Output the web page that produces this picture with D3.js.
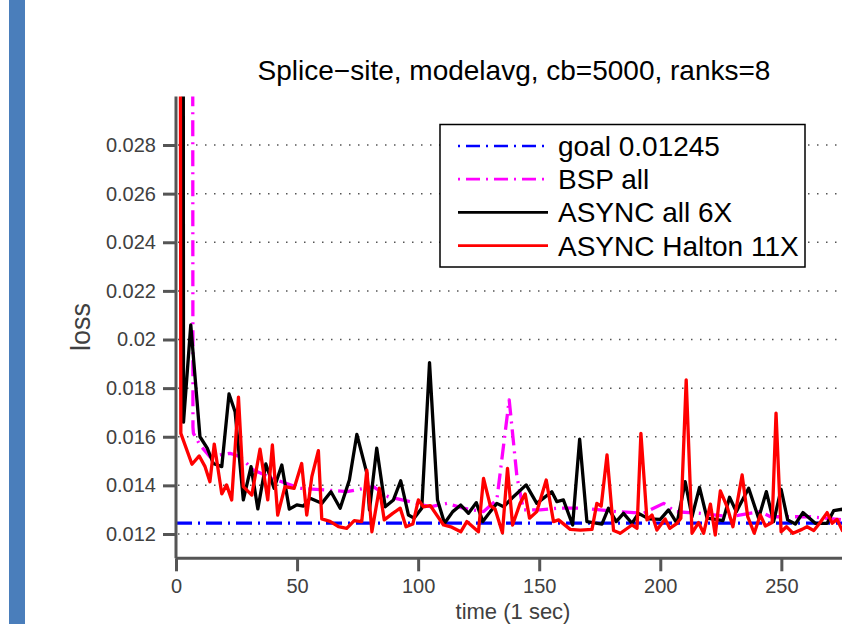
<!DOCTYPE html>
<html>
<head>
  <meta charset="utf-8">
  <title>Splice-site loss</title>
  <script src="https://cdn.jsdelivr.net/npm/d3@7"></script>
  <style>
    body { margin: 0; background: #fff; }
    svg { display: block; font-family: "Liberation Sans", Arial, Helvetica, sans-serif; }
  </style>
</head>
<body>
<svg id="chart" width="842" height="624"></svg>

<script>
  // values (time in sec, loss)
  var goalValue = 0.01245;

  var bspT = [6.8, 7.0, 7.2, 9.9, 14.0, 22.3, 26.4, 32.0, 41.6, 51.2, 62.3, 70.5, 81.5, 87.7, 96.7, 105.0,
    111.9, 118.7, 127.0, 132.5, 137.6, 140.8, 143.5, 150.4, 157.3, 168.3, 182.0, 193.0, 201.4, 206.2,
    216.5, 228.9, 241.3, 245.5, 262.0, 275.2, 280.0];
  var bspV = [0.05, 0.0164, 0.01614, 0.01566, 0.01518, 0.01532, 0.01518, 0.01463, 0.01422, 0.01388, 0.01381,
    0.01374, 0.01395, 0.01353, 0.01333, 0.01312, 0.01326, 0.01306, 0.01292, 0.0134, 0.01752, 0.01436,
    0.01299, 0.01299, 0.01306, 0.01306, 0.01292, 0.01285, 0.01326, 0.01292, 0.01285, 0.01271, 0.01292,
    0.01271, 0.01271, 0.01258, 0.01258];

  var asyncAllT = [2.9, 3.1, 6.1, 9.9, 12.9, 15.4, 18.9, 21.9, 24.4, 27.8, 31.0, 33.8, 37.1, 40.5, 43.7, 46.8,
    49.9, 52.6, 55.4, 60.2, 64.0, 67.8, 71.6, 74.7, 78.8, 79.9, 82.9, 86.4, 89.8, 92.8, 96.0, 98.3, 101.5,
    104.7, 108.0, 110.9, 114.3, 117.6, 120.8, 124.0, 126.7, 129.8, 132.5, 135.3, 138.7, 144.6, 149.0,
    155.2, 157.3, 160.0, 163.8, 166.7, 169.7, 175.9, 178.6, 181.8, 184.8, 188.3, 191.0, 195.2, 200.0,
    203.4, 206.9, 210.3, 213.1, 216.2, 219.3, 222.7, 225.9, 228.6, 231.4, 236.5, 240.6, 243.8, 246.8,
    249.9, 252.6, 255.8, 258.9, 264.0, 268.9, 271.6, 275.2, 279.0];
  var asyncAllV = [0.05, 0.0166, 0.0206, 0.016, 0.01553, 0.0149, 0.01477, 0.01776, 0.01703, 0.0134, 0.01477,
    0.01303, 0.01488, 0.01388, 0.01484, 0.01302, 0.0132, 0.01315, 0.01347, 0.01326, 0.01374, 0.01306,
    0.01422, 0.0161, 0.0145, 0.01299, 0.01553, 0.01312, 0.0134, 0.01419, 0.01278, 0.01265, 0.01306,
    0.01905, 0.0134, 0.01244, 0.01292, 0.01319, 0.01285, 0.01329, 0.01251, 0.01292, 0.01326, 0.01312,
    0.01347, 0.01402, 0.01326, 0.01374, 0.01333, 0.0134, 0.01237, 0.0159, 0.01251, 0.01241, 0.01306,
    0.01251, 0.01285, 0.01244, 0.01285, 0.01262, 0.0126, 0.01299, 0.01244, 0.01415, 0.01271, 0.01392,
    0.01265, 0.0126, 0.01255, 0.01351, 0.01292, 0.01388, 0.01265, 0.01374, 0.01251, 0.01384, 0.01258,
    0.01241, 0.01288, 0.01244, 0.01244, 0.01296, 0.01302, 0.0129];

  var haltonT = [1.6, 2.0, 6.6, 9.6, 12.0, 14.0, 15.8, 18.9, 20.9, 23.0, 25.8, 27.8, 31.3, 34.7, 37.9, 39.8,
    42.0, 45.0, 48.8, 51.9, 54.0, 56.1, 58.8, 60.2, 63.6, 67.1, 70.5, 73.6, 76.7, 78.8, 80.9, 84.0, 86.0,
    89.5, 92.6, 95.0, 97.8, 100.1, 102.2, 105.0, 110.5, 113.9, 117.6, 120.1, 124.9, 127.0, 129.8, 131.8,
    134.8, 136.9, 139.0, 142.1, 144.2, 146.0, 149.0, 152.9, 155.9, 158.0, 162.8, 167.0, 171.8, 173.8,
    175.6, 178.0, 180.7, 183.5, 188.3, 190.4, 192.0, 194.5, 196.6, 198.6, 202.0, 203.9, 206.9, 208.5,
    210.7, 213.1, 215.8, 217.9, 220.7, 222.7, 224.8, 227.6, 230.0, 233.8, 236.1, 238.8, 241.3, 243.4,
    246.2, 247.8, 249.9, 252.1, 254.8, 258.5, 260.6, 263.4, 265.8, 268.9, 271.0, 273.0, 275.2, 278.0];
  var haltonV = [0.05, 0.01614, 0.01487, 0.01521, 0.01477, 0.01415, 0.0157, 0.01365, 0.01402, 0.0134, 0.01763,
    0.01395, 0.0136, 0.01549, 0.0134, 0.01566, 0.01278, 0.01395, 0.01388, 0.0149, 0.01278, 0.01436,
    0.01543, 0.01262, 0.01252, 0.0123, 0.01223, 0.01255, 0.01251, 0.01463, 0.01209, 0.01388, 0.01258,
    0.01285, 0.01306, 0.0123, 0.01241, 0.0134, 0.01312, 0.01317, 0.01237, 0.01228, 0.01209, 0.01251,
    0.01209, 0.01429, 0.01317, 0.01302, 0.01205, 0.0147, 0.01237, 0.01326, 0.01365, 0.01265, 0.01292,
    0.01422, 0.01251, 0.01258, 0.01219, 0.01216, 0.01219, 0.01326, 0.01315, 0.01525, 0.01214, 0.01203,
    0.01237, 0.01223, 0.01614, 0.01258, 0.01278, 0.01216, 0.01262, 0.01223, 0.01244, 0.01265, 0.01834,
    0.01203, 0.01247, 0.01203, 0.01323, 0.01196, 0.01377, 0.01312, 0.0123, 0.01443, 0.01271, 0.01203,
    0.01278, 0.01233, 0.01247, 0.01697, 0.01209, 0.0123, 0.01203, 0.01219, 0.0123, 0.01214, 0.01244,
    0.01288, 0.01244, 0.0126, 0.01214, 0.0122];

  var xTicks = [0, 50, 100, 150, 200, 250];
  var yTicks = [0.012, 0.014, 0.016, 0.018, 0.02, 0.022, 0.024, 0.026, 0.028];
  var yTickLabels = ['0.012', '0.014', '0.016', '0.018', '0.02', '0.022', '0.024', '0.026', '0.028'];
  var legendLabels = ['goal 0.01245', 'BSP all', 'ASYNC all 6X', 'ASYNC Halton 11X'];

  var svg = d3.select('#chart');

  // slide bar on the left
  svg.append('rect')
    .attr('x', 9).attr('y', 0)
    .attr('width', 16).attr('height', 624)
    .attr('fill', '#4a7ebb');

  var x = d3.scaleLinear().domain([0, 280]).range([176, 854]);
  var y = d3.scaleLinear().domain([0.011, 0.030]).range([558.3, 96.4]);

  svg.append('clipPath').attr('id', 'plotclip')
    .append('rect')
    .attr('x', x(0)).attr('y', y(0.030))
    .attr('width', x(280) - x(0)).attr('height', y(0.011) - y(0.030));

  // dotted grid lines
  svg.append('g')
    .selectAll('line')
    .data(yTicks)
    .enter()
    .append('line')
    .attr('x1', x(0) + 2).attr('x2', x(280))
    .attr('y1', function(d) { return y(d); })
    .attr('y2', function(d) { return y(d); })
    .attr('stroke', '#555')
    .attr('stroke-width', 1.5)
    .attr('stroke-dasharray', '1.5,7.5');

  var line = d3.line()
    .x(function(d) { return x(d[0]); })
    .y(function(d) { return y(d[1]); });

  function pairs(ts, vs) {
    return ts.map(function(t, i) { return [t, vs[i]]; });
  }

  var series = [
    { data: [[0, goalValue], [280, goalValue]], color: '#0000ff', dash: '16,6,2,6' },
    { data: pairs(bspT, bspV), color: '#ff00ff', dash: '16,6,2,6' },
    { data: pairs(asyncAllT, asyncAllV), color: '#000000', dash: null },
    { data: pairs(haltonT, haltonV), color: '#ff0000', dash: null }
  ];

  var plot = svg.append('g').attr('clip-path', 'url(#plotclip)');

  plot.selectAll('path')
    .data(series)
    .enter()
    .append('path')
    .attr('d', function(d) { return line(d.data); })
    .attr('fill', 'none')
    .attr('stroke', function(d) { return d.color; })
    .attr('stroke-width', 3.3)
    .attr('stroke-linejoin', 'round')
    .attr('stroke-dasharray', function(d) { return d.dash; });

  // axes
  var xAxis = d3.axisBottom(x).tickValues(xTicks).tickSize(13).tickPadding(8);
  var yAxis = d3.axisLeft(y).tickValues(yTicks).tickSize(13).tickPadding(7)
    .tickFormat(function(d, i) { return yTickLabels[i]; });

  var gx = svg.append('g')
    .attr('transform', 'translate(0,' + y(0.011) + ')')
    .call(xAxis);
  var gy = svg.append('g')
    .attr('transform', 'translate(' + x(0) + ',0)')
    .call(yAxis);

  [gx, gy].forEach(function(g) {
    g.select('.domain').attr('stroke', '#555').attr('stroke-width', 3);
    g.selectAll('.tick line').attr('stroke', '#555').attr('stroke-width', 3);
    g.selectAll('.tick text')
      .attr('fill', '#404040')
      .style('font-size', '20px')
      .style('font-family', '"Liberation Sans", Arial, sans-serif');
  });
  gx.select('.domain').attr('d', 'M' + x(0) + ',0H' + x(280));
  gy.select('.domain').attr('d', 'M0,' + y(0.030) + 'V' + y(0.011));

  // title and axis labels
  svg.append('text')
    .attr('x', 514).attr('y', 80)
    .attr('text-anchor', 'middle')
    .style('font-size', '28px')
    .attr('fill', '#000')
    .text('Splice\u2212site, modelavg, cb=5000, ranks=8');

  svg.append('text')
    .attr('x', 513).attr('y', 619)
    .attr('text-anchor', 'middle')
    .style('font-size', '22px')
    .attr('fill', '#404040')
    .text('time (1 sec)');

  svg.append('text')
    .attr('transform', 'translate(90,327) rotate(-90)')
    .attr('text-anchor', 'middle')
    .style('font-size', '27px')
    .attr('fill', '#404040')
    .text('loss');

  // legend
  var legend = svg.append('g');
  legend.append('rect')
    .attr('x', 440).attr('y', 124.5)
    .attr('width', 365).attr('height', 142.5)
    .attr('fill', '#fff')
    .attr('stroke', '#000')
    .attr('stroke-width', 1.5);

  var rows = legend.selectAll('g.row')
    .data(series)
    .enter()
    .append('g')
    .attr('class', 'row')
    .attr('transform', function(d, i) { return 'translate(0,' + (146 + i * 33.2) + ')'; });

  rows.append('line')
    .attr('x1', 458).attr('x2', 548)
    .attr('stroke', function(d) { return d.color; })
    .attr('stroke-width', 2.7)
    .attr('stroke-dasharray', function(d) { return d.dash ? '2,6,14,6' : null; });

  rows.append('text')
    .attr('x', 558).attr('y', 10)
    .style('font-size', '28px')
    .attr('fill', '#000')
    .text(function(d, i) { return legendLabels[i]; });
</script>
</body>
</html>
